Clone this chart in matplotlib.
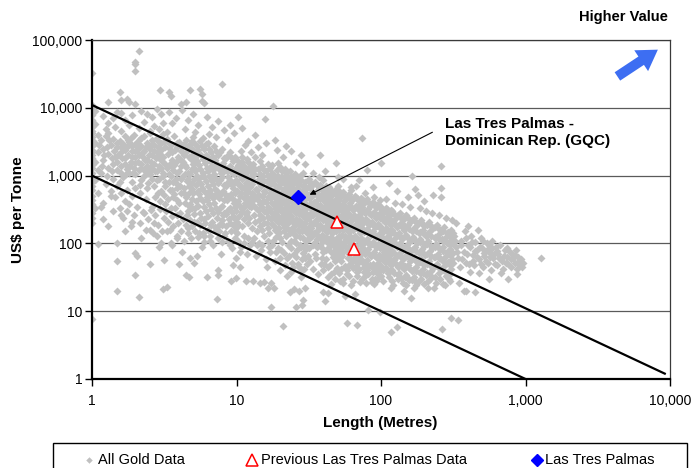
import matplotlib
matplotlib.use('Agg')
import matplotlib.pyplot as plt
from matplotlib.lines import Line2D
from matplotlib.patches import Rectangle

plt.rcParams['font.family'] = ['Liberation Sans', 'DejaVu Sans']

# ---- data: (length in metres, US$ per tonne) ----
# All Gold Data, split by length range
gold_1m = [(1, 33000), (1, 11000), (1, 10500), (1.05, 9000), (1, 7800), (1, 6500), (1.05, 5800),
           (1, 5200), (1, 4600), (1.1, 4000), (1, 3700), (1, 3300), (1.05, 3000), (1, 2700),
           (1, 2400), (1.1, 2200), (1, 2000), (1, 1800), (1.05, 1600), (1, 1450), (1, 1300),
           (1.1, 1200), (1, 1100), (1, 950), (1.05, 870), (1, 800), (1, 700), (1, 620),
           (1.1, 560), (1, 500), (1, 440), (1, 380), (1.05, 330), (1, 280), (1, 240), (1, 200),
           (1.1, 97), (1, 7.7), (1, 9500), (1, 6000), (1, 4200), (1, 3000), (1, 2200), (1, 1600)]

gold_1to3 = [(2.1, 70000), (2.0, 48000), (2.0, 45000), (2.0, 35000), (1.55, 17000), (1.3, 12000),
             (1.6, 13000), (1.75, 13500), (1.8, 12000), (2.0, 11500), (2.95, 18000), (1.5, 8800),
             (1.2, 7500), (1.3, 6000), (1.4, 7000), (1.6, 8500), (1.7, 6500), (1.9, 7800), (2.2, 9000),
             (2.4, 8000), (2.6, 7200), (2.8, 9500), (3.0, 8200), (1.25, 4800), (1.45, 5200), (1.6, 4500),
             (1.8, 5600), (2.1, 5000), (2.3, 6200), (2.5, 4600), (2.7, 5400), (2.9, 4900), (3.1, 6000),
             (1.15, 3300), (1.2, 2500), (1.2, 1700), (1.25, 3900), (1.3, 2100), (1.3, 1300), (1.35, 2800),
             (1.4, 3500), (1.4, 900), (1.45, 1900), (1.5, 2600), (1.5, 1200), (1.15, 1100), (1.25, 750),
             (1.35, 600), (1.45, 480), (1.2, 400), (1.5, 700), (1.3, 4200), (1.4, 1500),
             (1.55, 3200), (1.6, 2200), (1.6, 1400), (1.65, 950), (1.7, 3800), (1.7, 1800), (1.75, 2600),
             (1.8, 1100), (1.8, 3100), (1.85, 1600), (1.9, 2300), (1.9, 800), (1.95, 1300), (2.0, 2900),
             (2.0, 1900), (2.0, 650), (1.6, 550), (1.7, 420), (1.85, 3600), (1.95, 4000), (1.65, 2900),
             (1.75, 1250), (1.9, 500), (2.0, 1050),
             (2.1, 3400), (2.1, 2000), (2.1, 1200), (2.2, 2700), (2.2, 1500), (2.2, 850), (2.3, 3900),
             (2.3, 2300), (2.3, 1000), (2.4, 3000), (2.4, 1700), (2.4, 650), (2.5, 2500), (2.5, 1300),
             (2.5, 4200), (2.6, 2000), (2.6, 900), (2.6, 3300), (2.15, 550), (2.35, 450), (2.45, 1100),
             (2.55, 1600), (2.25, 1900), (2.05, 2400),
             (2.7, 2800), (2.7, 1500), (2.7, 700), (2.8, 3600), (2.8, 2200), (2.8, 1150), (2.9, 1800),
             (2.9, 900), (3.0, 3000), (3.0, 2400), (3.0, 1300), (3.0, 600), (3.1, 1900), (3.1, 1000),
             (3.1, 4100), (3.2, 2600), (3.2, 1500), (3.2, 800), (2.75, 480), (2.95, 420), (3.15, 520),
             (2.85, 3200),
             (1.12, 2800), (1.18, 1400), (1.22, 2000), (1.28, 2600), (1.28, 1000), (1.32, 3300),
             (1.38, 1800), (1.38, 1150), (1.42, 2300), (1.48, 3000), (1.48, 1600), (1.52, 2000),
             (1.58, 2600), (1.58, 1100), (1.62, 1800), (1.68, 2400), (1.68, 1500), (1.72, 1050),
             (1.78, 2000), (1.78, 3400), (1.82, 1400), (1.88, 1900), (1.88, 2700), (1.92, 1100),
             (1.98, 1550), (1.98, 2300), (2.05, 3000), (2.08, 1600), (2.12, 2600), (2.18, 1300),
             (2.18, 3600), (2.25, 2200), (2.28, 1200), (2.32, 1700), (2.38, 2600), (2.42, 1400),
             (2.48, 2000), (2.52, 1050), (2.58, 2800), (2.62, 1250), (2.68, 2300), (2.72, 1150),
             (2.78, 1800), (2.82, 850), (2.88, 2600), (2.92, 1400), (2.98, 2000), (3.05, 1650),
             (3.08, 1100), (3.15, 3100), (3.18, 700), (1.35, 500), (1.55, 800), (1.75, 620),
             (2.15, 720), (2.45, 780), (2.85, 560),
             (1.55, 330), (1.65, 240), (1.75, 300), (1.85, 180), (1.95, 260), (2.05, 340), (2.15, 200),
             (2.25, 290), (2.35, 160), (2.45, 230), (2.55, 310), (2.65, 140), (2.75, 260), (2.85, 190),
             (2.95, 320), (3.05, 150), (3.15, 240),
             (1.15, 350), (1.2, 230), (1.3, 180), (1.4, 300), (1.5, 100), (1.5, 55), (1.5, 20), (1.6, 260),
             (1.7, 150), (1.8, 380), (1.9, 210), (2.0, 72), (2.0, 34), (2.05, 65), (2.1, 16), (2.2, 120),
             (2.3, 280), (2.5, 50), (2.5, 160), (2.6, 340), (2.7, 200), (2.8, 130), (2.9, 88), (3.0, 100),
             (3.15, 57), (3.1, 21), (3.3, 23), (3.2, 380)]

gold_3to10 = [(3.4, 17000), (3.5, 15000), (4.1, 11500), (4.5, 12000), (4.8, 18000), (5.6, 19000),
              (5.8, 16000), (5.8, 12500), (6.0, 11800), (7.9, 22500), (3.4, 8700), (3.8, 7000),
              (4.2, 9300), (4.6, 6500), (5.0, 8000), (5.4, 5600), (6.2, 7400), (6.8, 5200), (7.5, 6300),
              (8.2, 4700), (9.0, 5500), (3.6, 5900), (4.4, 4900), (5.2, 4400), (6.5, 4100), (3.3, 4400),
              (7.2, 3700), (8.8, 3400), (9.6, 4200), (5.9, 3600),
              (3.3, 3500), (3.35, 2100), (3.3, 1300), (3.4, 800), (3.35, 450),
              (3.5, 2800), (3.55, 1700), (3.5, 1000), (3.6, 620), (3.5, 330),
              (3.7, 3900), (3.75, 2400), (3.7, 1450), (3.8, 900), (3.7, 540),
              (4.0, 3100), (3.95, 1900), (4.0, 1150), (4.05, 700), (4.0, 400), (3.9, 260),
              (4.2, 2600), (4.25, 1600), (4.2, 950), (4.3, 560),
              (4.5, 3400), (4.45, 2200), (4.5, 1350), (4.55, 820), (4.5, 480), (4.6, 300),
              (4.8, 2900), (4.85, 1750), (4.8, 1050), (4.9, 640), (4.75, 380),
              (5.0, 3700), (5.05, 2300), (5.0, 1500), (5.1, 900), (5.0, 550), (4.95, 330), (5.1, 210),
              (5.3, 2700), (5.35, 1650), (5.3, 1000), (5.4, 600), (5.25, 420),
              (5.6, 3200), (5.65, 2000), (5.6, 1250), (5.7, 760), (5.55, 460), (5.6, 280),
              (6.0, 2500), (6.05, 1550), (6.0, 950), (6.1, 580), (5.95, 350), (6.0, 230),
              (6.3, 3000), (6.35, 1850), (6.3, 1150), (6.4, 700), (6.25, 430),
              (6.7, 2200), (6.75, 1400), (6.7, 850), (6.8, 520), (6.65, 320), (6.7, 190),
              (7.0, 2700), (7.05, 1700), (7.0, 1050), (7.1, 640), (6.95, 390),
              (7.5, 2000), (7.55, 1250), (7.5, 780), (7.6, 470), (7.45, 290), (7.5, 180),
              (8.0, 2500), (8.05, 1550), (8.0, 950), (8.1, 590), (7.95, 360), (8.0, 220),
              (8.5, 1800), (8.55, 1150), (8.5, 700), (8.6, 430), (8.45, 270),
              (9.0, 2200), (9.05, 1400), (9.0, 860), (9.1, 530), (8.95, 330), (9.0, 200),
              (9.5, 1650), (9.55, 1050), (9.5, 650), (9.6, 400), (9.45, 250),
              (3.45, 2500), (3.65, 1200), (3.85, 3000), (4.1, 1400), (4.35, 2000), (4.65, 1100),
              (4.9, 2500), (5.15, 1250), (5.45, 2100), (5.75, 1000), (6.15, 2000), (6.5, 1300),
              (6.9, 900), (7.3, 1500), (7.8, 1100), (8.3, 1300), (8.8, 950), (9.3, 1150), (9.8, 800),
              (3.9, 650), (4.7, 700), (5.5, 800), (6.4, 550), (7.3, 600), (8.4, 520), (9.8, 420),
              (3.4, 3000), (3.45, 1500), (3.4, 1050), (3.45, 620), (3.6, 2200), (3.6, 1400), (3.65, 800),
              (3.62, 480), (3.85, 2600), (3.9, 1650), (3.85, 1100), (3.88, 760), (3.85, 430), (4.1, 2300),
              (4.12, 1700), (4.1, 880), (4.15, 560), (4.35, 2900), (4.4, 1450), (4.38, 1050), (4.35, 650),
              (4.38, 400), (4.65, 2600), (4.7, 1900), (4.62, 900), (4.68, 560), (4.66, 360), (4.92, 3200),
              (4.95, 2000), (4.9, 1250), (4.93, 780), (4.95, 450), (5.2, 2900), (5.2, 1800), (5.15, 1150),
              (5.22, 720), (5.18, 330), (5.45, 2400), (5.5, 1450), (5.45, 900), (5.5, 540), (5.45, 360),
              (5.8, 2700), (5.82, 1750), (5.85, 1100), (5.8, 650), (5.85, 420), (6.15, 2900), (6.2, 1300),
              (6.15, 820), (6.2, 480), (6.18, 300), (6.5, 2500), (6.55, 1650), (6.5, 1000), (6.55, 620),
              (6.5, 380), (6.85, 1900), (6.9, 1200), (6.88, 740), (6.85, 460), (6.9, 280), (7.2, 2300),
              (7.25, 1400), (7.2, 880), (7.25, 540), (7.2, 330), (7.7, 2200), (7.75, 1400), (7.7, 860),
              (7.75, 540), (7.7, 330), (8.2, 1800), (8.25, 1150), (8.2, 720), (8.25, 440), (8.2, 280),
              (8.7, 2000), (8.75, 1300), (8.7, 800), (8.75, 500), (8.7, 310), (9.25, 1800), (9.3, 1100),
              (9.25, 720), (9.3, 460), (9.25, 290), (9.75, 1900), (9.8, 1250), (9.75, 560), (9.8, 350),
              (9.75, 230),
              (3.25, 300), (3.35, 210), (3.45, 160), (3.55, 250), (3.65, 180), (3.75, 330), (3.85, 130),
              (3.95, 200), (4.05, 280), (4.15, 150), (4.25, 230), (4.35, 110), (4.45, 190), (4.55, 260),
              (4.65, 140), (4.75, 220), (4.85, 120), (4.95, 180), (5.1, 270), (5.2, 150), (5.3, 210),
              (5.45, 125), (5.6, 190), (5.7, 240), (5.85, 140), (5.95, 105), (6.1, 200), (6.3, 160),
              (6.4, 250), (6.6, 130), (6.8, 210), (6.9, 95), (7.1, 175), (7.3, 240), (7.4, 120),
              (7.6, 150), (7.8, 200), (7.9, 105), (8.1, 260), (8.3, 140), (8.5, 180), (8.7, 110),
              (8.9, 230), (9.1, 150), (9.3, 85), (9.5, 190), (9.7, 120), (9.9, 170),
              (3.3, 150), (3.6, 95), (3.9, 120), (4.2, 75), (4.5, 34), (4.7, 32), (4.6, 170), (4.8, 60),
              (5.1, 51), (5.5, 140), (5.8, 88), (6.25, 32), (6.6, 110), (7.3, 15), (7.2, 160), (7.4, 34),
              (7.5, 40), (7.8, 70), (8.2, 130), (9.1, 28), (9.0, 95), (9.9, 31), (9.8, 150), (9.9, 60),
              (4.0, 50), (5.3, 65), (3.5, 100), (8.0, 185), (9.5, 48), (6.0, 130)]

gold_10to30 = [(10.2, 7400), (13.4, 4000), (15.8, 6800), (17.8, 10500), (18.5, 3400), (21, 1900),
               (24, 2300), (26, 1600), (11, 5000), (12, 3200), (14, 2600), (16, 3000), (19, 2400),
               (22, 2700), (28, 2000), (30, 1500), (12.5, 2200), (15, 2000), (11.5, 2800),
               (10, 1700), (10.1, 1200), (9.9, 850), (10, 600), (10.2, 420), (9.9, 300), (10, 210), (10.1, 140),
               (10.5, 1400), (10.6, 1000), (10.4, 720), (10.5, 500), (10.7, 350), (10.4, 250),
               (11, 1900), (11.1, 1300), (10.9, 900), (11, 650), (11.2, 460), (10.9, 320), (11, 180),
               (11.5, 1100), (11.6, 780), (11.4, 560), (11.5, 390), (11.7, 270),
               (12, 1600), (12.1, 1150), (11.9, 800), (12, 580), (12.2, 410), (11.9, 290), (12, 200), (12.1, 120),
               (12.5, 1350), (12.7, 950), (12.4, 680), (12.6, 480), (12.5, 340),
               (13, 1500), (13.2, 1050), (12.9, 750), (13.1, 530), (13, 370), (13.3, 260), (12.9, 170),
               (14, 1250), (14.2, 880), (13.8, 620), (14.1, 440), (14, 310), (14.3, 220), (13.9, 150),
               (15, 1400), (15.2, 980), (14.8, 700), (15.1, 500), (15, 350), (15.3, 240), (14.9, 160), (15, 95),
               (16, 1150), (16.2, 820), (15.8, 580), (16.1, 410), (16, 290), (16.3, 200),
               (17, 1300), (17.2, 920), (16.8, 650), (17.1, 460), (17, 320), (17.3, 230), (16.9, 140),
               (18, 1050), (18.2, 760), (17.8, 540), (18.1, 380), (18, 270), (18.3, 180), (17.9, 110),
               (19, 1200), (19.3, 850), (18.8, 600), (19.1, 420), (19, 300), (19.4, 210),
               (20, 1350), (20.3, 950), (19.8, 680), (20.1, 480), (20, 340), (20.4, 240), (19.7, 170),
               (20, 120), (20.2, 80),
               (21, 900), (21.3, 640), (20.8, 450), (21.2, 320), (21, 220), (21.4, 150),
               (22, 1100), (22.3, 780), (21.8, 560), (22.2, 400), (22, 280), (22.4, 200), (21.9, 130),
               (23, 850), (23.3, 600), (22.8, 430), (23.2, 300), (23, 210), (23.4, 140),
               (24, 1000), (24.4, 720), (23.8, 510), (24.2, 360), (24, 250), (24.5, 175), (23.9, 110),
               (25, 800), (25.4, 570), (24.8, 400), (25.2, 290), (25, 200), (25.5, 135), (25, 70),
               (26, 920), (26.4, 650), (25.8, 460), (26.2, 330), (26, 230), (26.5, 160), (26, 100),
               (27, 750), (27.4, 530), (26.8, 380), (27.2, 270), (27, 190), (27.5, 125),
               (28, 850), (28.5, 600), (27.8, 430), (28.3, 300), (28, 210), (28.6, 150), (28, 90),
               (30, 800), (30.5, 560), (29.6, 400), (30.2, 285), (30, 200), (30.7, 140), (29.8, 95), (30, 60),
               (31, 680), (31.4, 480), (30.8, 340), (31.2, 240), (31, 170), (31.5, 115),
               (10.8, 2300), (11.8, 1750), (13.5, 1900), (14.5, 1650), (16.5, 1500), (17.5, 1450),
               (19.5, 1550), (21.5, 1250), (23.5, 1150), (25.5, 1050), (27.5, 1000), (29, 1100),
               (13.8, 95), (16.8, 90), (18.8, 75), (22.5, 60), (24.5, 45), (26.5, 50), (28.5, 40),
               (12.8, 105), (10.6, 75), (11.2, 100),
               (10.3, 1450), (10.35, 760), (10.25, 380), (10.3, 190), (10.8, 1150), (10.75, 560),
               (10.85, 290), (10.9, 1600), (11.3, 1400), (11.35, 680), (11.25, 340), (11.3, 230),
               (11.8, 950), (11.75, 470), (11.85, 650), (11.9, 1250), (12.3, 1300), (12.35, 700),
               (12.25, 360), (12.3, 240), (12.8, 1100), (12.9, 560), (12.75, 420), (12.85, 880),
               (13.5, 1250), (13.6, 640), (13.4, 460), (13.55, 330), (13.5, 210), (14.5, 1050),
               (14.6, 760), (14.4, 520), (14.55, 380), (14.5, 265), (14.6, 180), (15.5, 1200),
               (15.6, 830), (15.4, 600), (15.55, 420), (15.5, 300), (15.6, 200), (16.5, 990),
               (16.6, 700), (16.4, 490), (16.55, 350), (16.5, 245), (16.6, 170), (17.5, 1100),
               (17.6, 780), (17.4, 560), (17.55, 400), (17.5, 280), (17.6, 195), (18.5, 900),
               (18.6, 640), (18.4, 460), (18.55, 330), (18.5, 230), (18.6, 155), (19.5, 1000),
               (19.6, 720), (19.4, 510), (19.55, 360), (19.5, 250), (19.6, 140), (20.6, 1150),
               (20.7, 820), (20.5, 580), (20.7, 410), (20.6, 290), (20.7, 200), (21.6, 1000),
               (21.7, 760), (21.5, 530), (21.7, 380), (21.6, 265), (21.7, 175), (22.7, 950),
               (22.8, 660), (22.6, 480), (22.8, 340), (22.7, 240), (22.8, 165), (23.7, 880),
               (23.8, 620), (23.6, 440), (23.8, 310), (23.7, 220), (23.8, 150), (24.8, 860),
               (24.9, 610), (24.6, 450), (24.9, 320), (24.8, 225), (24.9, 155), (25.9, 780),
               (26, 550), (25.7, 390), (26, 280), (25.9, 195), (26, 130), (27, 880), (27.2, 620),
               (26.9, 440), (27.1, 310), (27, 220), (27.2, 150), (28.9, 700), (29, 500), (28.8, 360),
               (29, 250), (28.9, 175), (29, 120), (30.3, 650), (30.4, 460), (30.1, 330), (30.4, 230),
               (30.3, 165), (30.4, 110),
               (10.2, 110), (10.8, 90), (11.3, 130), (11.8, 70), (12.4, 95), (13.2, 120), (13.6, 65),
               (14.2, 100), (14.8, 80), (15.4, 130), (15.9, 58), (16.4, 110), (17, 75), (17.7, 95),
               (18.4, 55), (18.9, 125), (19.4, 85), (20, 60), (20.6, 105), (21.3, 72), (21.8, 48),
               (22.6, 95), (23.2, 65), (23.8, 85), (24.3, 52), (24.9, 110), (25.7, 62), (26.3, 80),
               (26.9, 45), (27.6, 95), (28.2, 58), (28.8, 72), (29.4, 42), (30.1, 82), (30.8, 50),
               (31.4, 65), (16.2, 45), (19.9, 40), (23.7, 38), (27.8, 32),
               (10.5, 45), (11.6, 28), (13, 28), (14.5, 26), (15.5, 27), (16.5, 22), (17.4, 26),
               (17.4, 11.5), (18.2, 22), (21, 6), (22.4, 33), (23.4, 19), (25, 21), (27, 20), (30, 22),
               (25.8, 11.5), (28.3, 12.3), (28.8, 14.6)]

gold_30to100 = [(32, 900), (32.5, 650), (31.8, 460), (32.2, 330), (32, 240), (32.6, 170), (31.9, 120), (32, 85),
                (33, 700), (33.5, 500), (33.2, 360), (33.8, 260), (33, 185), (33.4, 130),
                (35, 800), (35.5, 580), (34.6, 410), (35.2, 300), (35, 215), (35.8, 150), (34.8, 105), (35, 70),
                (36.5, 620), (36, 440), (37, 320), (36.4, 230), (36.8, 160), (36.2, 115),
                (38, 720), (38.6, 520), (37.8, 370), (38.4, 270), (38, 190), (38.8, 135), (37.9, 95),
                (40, 850), (40.6, 600), (39.5, 430), (40.3, 310), (40, 220), (40.8, 160), (39.6, 110),
                (40, 75), (40.4, 50),
                (42, 560), (42.6, 400), (41.6, 290), (42.3, 205), (42, 145), (42.8, 100),
                (44, 680), (44.7, 480), (43.6, 350), (44.3, 250), (44, 180), (44.9, 125), (43.8, 88),
                (46, 530), (46.6, 380), (45.6, 270), (46.4, 195), (46, 140), (46.9, 95),
                (48, 620), (48.7, 450), (47.5, 320), (48.3, 230), (48, 165), (48.9, 115), (47.7, 80), (48, 55),
                (50, 700), (50.8, 500), (49.5, 360), (50.4, 260), (50, 185), (51, 130), (49.7, 90), (50, 62),
                (52, 480), (52.8, 340), (51.6, 245), (52.4, 175), (52, 125), (53, 85),
                (55, 580), (55.8, 420), (54.4, 300), (55.4, 215), (55, 155), (56, 110), (54.7, 75),
                (57, 450), (57.8, 320), (56.6, 230), (57.5, 165), (57, 118), (58, 80),
                (60, 540), (61, 390), (59.4, 280), (60.5, 200), (60, 145), (61.2, 100), (59.6, 70), (60, 48),
                (63, 430), (64, 310), (62.5, 220), (63.5, 160), (63, 112), (64.3, 78),
                (66, 500), (67, 360), (65.4, 260), (66.5, 185), (66, 130), (67.3, 92), (65.7, 64),
                (70, 420), (71, 300), (69.3, 215), (70.6, 155), (70, 110), (71.5, 76), (69.6, 52),
                (73, 470), (74, 340), (72.3, 240), (73.6, 170), (73, 122), (74.5, 85), (72.6, 58),
                (76, 390), (77, 280), (75.3, 200), (76.6, 145), (76, 102), (77.5, 70),
                (80, 450), (81, 320), (79.2, 230), (80.6, 165), (80, 118), (81.6, 82), (79.5, 56), (80, 40),
                (84, 360), (85, 260), (83.2, 185), (84.6, 132), (84, 94), (85.6, 66),
                (88, 410), (89, 290), (87.2, 210), (88.6, 150), (88, 106), (89.6, 74), (87.5, 50),
                (92, 340), (93, 240), (91.2, 172), (92.6, 123), (92, 88), (93.6, 61),
                (96, 380), (97, 270), (95.2, 195), (96.6, 138), (96, 98), (97.6, 68), (95.5, 46),
                (32.8, 780), (32.9, 560), (32.7, 400), (32.9, 280), (32.8, 200), (32.9, 145), (34, 740),
                (34.2, 530), (33.9, 380), (34.1, 270), (34, 195), (34.2, 140), (34, 95), (36, 720),
                (36.2, 520), (35.9, 370), (36.1, 265), (36, 190), (36.2, 135), (36, 90), (37.4, 680),
                (37.6, 470), (37.3, 340), (37.5, 240), (37.4, 170), (37.6, 120), (39.2, 640), (39.4, 460),
                (39.1, 330), (39.3, 240), (39.2, 170), (39.4, 125), (39.2, 85), (41.3, 700), (41.5, 500),
                (41.2, 360), (41.4, 255), (41.3, 180), (41.5, 125), (41.3, 80), (43.2, 600), (43.4, 440),
                (43.1, 310), (43.3, 220), (43.2, 160), (43.4, 110), (45.2, 620), (45.4, 430), (45.1, 310),
                (45.3, 225), (45.2, 160), (45.4, 110), (45.2, 75), (47.2, 560), (47.4, 400), (47.1, 285),
                (47.3, 205), (47.2, 150), (47.4, 100), (49.2, 550), (49.4, 400), (49.1, 290), (49.3, 210),
                (49.2, 150), (49.4, 105), (49.2, 72), (51.3, 600), (51.5, 430), (51.2, 310), (51.4, 220),
                (51.3, 155), (51.5, 110), (51.3, 75), (53.8, 520), (54, 370), (53.7, 265), (53.9, 190),
                (53.8, 135), (54, 95), (53.8, 65), (56.2, 500), (56.4, 360), (56.1, 260), (56.3, 185),
                (56.2, 130), (56.4, 92), (58.7, 480), (58.9, 340), (58.6, 245), (58.8, 175), (58.7, 125),
                (58.9, 88), (58.7, 60), (61.7, 470), (61.9, 340), (61.6, 245), (61.8, 175), (61.7, 125),
                (61.9, 86), (61.7, 58), (64.6, 460), (64.8, 330), (64.5, 235), (64.7, 170), (64.6, 120),
                (64.8, 84), (64.6, 56), (68, 460), (68.2, 330), (67.9, 235), (68.1, 168), (68, 118),
                (68.2, 82), (68, 56), (71.6, 380), (71.8, 270), (71.5, 195), (71.7, 140), (71.6, 98),
                (71.8, 68), (75, 430), (75.2, 310), (74.9, 220), (75.1, 158), (75, 112), (75.2, 78),
                (75, 52), (78.4, 420), (78.6, 300), (78.3, 215), (78.5, 152), (78.4, 108), (78.6, 75),
                (78.4, 50), (82.3, 400), (82.5, 285), (82.2, 205), (82.4, 145), (82.3, 102), (82.5, 70),
                (82.3, 47), (86.2, 380), (86.4, 275), (86.1, 195), (86.3, 138), (86.2, 98), (86.4, 68),
                (86.2, 45), (90.2, 360), (90.4, 260), (90.1, 185), (90.3, 132), (90.2, 94), (90.4, 65),
                (90.2, 44), (94.2, 350), (94.4, 250), (94.1, 180), (94.3, 128), (94.2, 90), (94.4, 62),
                (94.2, 42), (98.3, 330), (98.5, 240), (98.2, 170), (98.4, 122), (98.3, 86), (98.5, 58),
                (98.3, 40),
                (32.5, 55), (33.8, 42), (35.5, 60), (36.8, 35), (38.2, 50), (39.8, 40), (41.5, 58),
                (42.8, 32), (44.4, 48), (46.2, 62), (47.8, 30), (49.5, 44), (51.2, 36), (52.9, 55),
                (54.7, 30), (56.6, 46), (58.4, 40), (60.5, 33), (62.3, 52), (64, 28), (66.4, 45),
                (68.5, 33), (70.8, 42), (73.4, 30), (75.8, 45), (78.2, 26), (80.7, 35), (83.3, 48),
                (86, 27), (88.7, 38), (91.5, 30), (94.6, 52), (97.4, 32), (45, 35), (55, 26), (76, 38),
                (92, 28),
                (39, 60), (43, 45), (47, 38), (53, 42), (58, 35), (64, 44), (68, 38), (78, 33), (86, 30),
                (94, 36), (45, 560), (62, 620), (78, 560), (90, 480), (99, 430), (34, 1100), (37, 950),
                (41, 1150),
                (38, 2000), (49, 1550), (74, 3600), (80, 1200), (50, 950), (62, 680), (67, 700), (88, 680),
                (55, 900), (70, 850),
                (40, 19), (41, 14), (43, 18.5), (56, 17), (66, 18), (58, 6.7), (68, 6.3), (81, 10.4),
                (98, 9.8), (45, 25), (52, 28), (62, 24), (72, 27), (90, 25)]

gold_100to300 = [(100, 350), (101, 250), (99, 180), (100.5, 130), (100, 92), (102, 65), (99.5, 46), (100, 33),
                 (105, 290), (106, 205), (104, 148), (105.5, 105), (105, 75), (107, 53),
                 (110, 320), (111.5, 230), (109, 165), (110.5, 118), (110, 84), (112, 60), (109, 42),
                 (115, 260), (116.5, 188), (114, 135), (115.5, 96), (115, 68), (117, 48),
                 (120, 300), (122, 215), (119, 155), (121, 110), (120, 78), (123, 56), (119, 40), (120, 28),
                 (128, 240), (130, 172), (126, 123), (129, 88), (128, 63), (131, 45),
                 (135, 280), (137, 200), (133, 142), (136, 102), (135, 73), (138, 52), (134, 37),
                 (142, 225), (144, 160), (140, 115), (143, 82), (142, 59), (145, 42),
                 (150, 260), (153, 185), (148, 132), (151, 95), (150, 68), (154, 48), (149, 34), (150, 24),
                 (160, 210), (163, 150), (158, 107), (161, 77), (160, 55), (164, 39),
                 (170, 240), (173, 172), (167, 123), (171, 88), (170, 63), (174, 45), (168, 32),
                 (180, 195), (184, 140), (177, 100), (182, 72), (180, 51), (185, 36),
                 (190, 225), (194, 160), (187, 115), (192, 82), (190, 59), (195, 42), (188, 30),
                 (200, 180), (205, 130), (197, 93), (202, 67), (200, 48), (206, 34),
                 (215, 210), (220, 150), (211, 107), (217, 77), (215, 55), (221, 39), (212, 28),
                 (230, 170), (235, 122), (226, 87), (232, 62), (230, 44),
                 (245, 190), (250, 136), (241, 97), (247, 70), (245, 50), (252, 36),
                 (260, 160), (266, 115), (256, 82), (262, 59), (260, 42),
                 (275, 175), (281, 125), (270, 90), (278, 64), (275, 46), (283, 33),
                 (290, 145), (296, 104), (285, 74), (293, 53), (290, 38),
                 (305, 160), (312, 115), (300, 82), (308, 59), (305, 42),
                 (102.5, 310), (103, 220), (102.5, 160), (103, 115), (102.5, 82), (103, 58), (102.5, 40),
                 (107.5, 330), (108, 240), (107.5, 170), (108, 122), (107.5, 88), (108, 62), (107.5, 44),
                 (112.5, 280), (113, 200), (112.5, 145), (113, 104), (112.5, 74), (113, 52), (112.5, 36),
                 (117.5, 310), (118, 220), (117.5, 158), (118, 112), (117.5, 80), (118, 57), (117.5, 40),
                 (124, 270), (125, 195), (124, 140), (125, 100), (124, 72), (125, 51), (124, 36),
                 (131.5, 260), (132.5, 186), (131.5, 133), (132.5, 95), (131.5, 68), (132.5, 48),
                 (131.5, 34), (138.5, 240), (139.5, 172), (138.5, 123), (139.5, 88), (138.5, 63),
                 (139.5, 45), (138.5, 31), (146, 250), (147, 178), (146, 127), (147, 90), (146, 64),
                 (147, 46), (146, 32), (155, 230), (156, 165), (155, 118), (156, 84), (155, 60), (156, 43),
                 (155, 30), (165, 225), (166, 160), (165, 114), (166, 82), (165, 58), (166, 41), (165, 29),
                 (175, 210), (176, 150), (175, 107), (176, 77), (175, 55), (176, 39), (175, 27),
                 (185, 205), (186, 146), (185, 104), (186, 75), (185, 53), (186, 38), (195, 195),
                 (196, 140), (195, 100), (196, 72), (195, 51), (196, 36), (207, 190), (208, 136),
                 (207, 97), (208, 70), (207, 50), (208, 36), (222, 180), (223, 128), (222, 92), (223, 66),
                 (222, 47), (223, 33), (237, 175), (238, 125), (237, 90), (238, 64), (237, 46), (237, 32),
                 (252, 165), (253, 118), (252, 85), (253, 61), (252, 44), (268, 150), (269, 108),
                 (268, 77), (269, 55), (268, 40), (284, 140), (285, 100), (284, 72), (285, 51), (284, 37),
                 (300, 130), (301, 94), (300, 67), (301, 48), (300, 35), (315, 140), (316, 100),
                 (315, 72), (316, 52),
                 (104, 28), (113, 32), (122, 24), (132, 30), (143, 26), (157, 29), (168, 22), (182, 28),
                 (198, 25), (218, 30), (234, 22), (256, 30), (278, 24), (295, 30),
                 (108, 450), (125, 400), (140, 380), (158, 350), (185, 330), (205, 300), (225, 280),
                 (250, 260), (280, 240), (310, 220), (118, 22), (145, 20), (175, 24), (210, 22),
                 (240, 26), (270, 25), (300, 28),
                 (100, 1550), (113, 780), (165, 1000), (260, 1400), (172, 630), (260, 650), (260, 480),
                 (230, 520), (153, 480), (180, 520), (130, 600), (200, 420),
                 (117, 5), (129, 5.8), (162, 15.6), (265, 5.5), (305, 8)]

gold_300up = [(320, 130), (330, 90), (340, 60), (350, 45), (360, 110), (375, 75), (380, 150), (390, 52),
              (400, 95), (410, 38), (420, 130), (430, 68), (440, 48), (450, 105), (460, 80), (475, 36),
              (480, 58), (490, 120), (500, 85), (510, 45), (520, 65), (540, 100), (550, 52), (560, 75),
              (580, 40), (590, 110), (600, 60), (620, 88), (640, 48), (650, 70), (670, 95), (690, 55),
              (700, 42), (720, 80), (740, 62), (760, 50), (780, 75), (800, 45), (820, 60), (850, 68),
              (870, 42), (900, 55), (920, 48), (950, 45), (760, 30), (880, 35), (1280, 60), (330, 200),
              (400, 180), (470, 160), (345, 26), (390, 20), (450, 19), (375, 20), (560, 30), (680, 36),
              (325, 110), (335, 75), (355, 95), (365, 58), (385, 120), (395, 70), (405, 50), (415, 88),
              (425, 105), (435, 55), (445, 78), (465, 62), (485, 90), (495, 50), (505, 110), (515, 72),
              (530, 55), (545, 80), (555, 95), (570, 62), (585, 85), (605, 70), (615, 50), (630, 78),
              (660, 60), (710, 65), (730, 52), (750, 85), (790, 58), (810, 70), (840, 52), (860, 80),
              (890, 62), (930, 58), (960, 52),
              (340, 7.4)]

prev_len = [49.6, 65]
prev_usd = [204, 84]
ltp_len = [26.7]
ltp_usd = [490]

# the two diagonal guide lines
upper_len = [1, 9200]
upper_usd = [11000, 1.2]
lower_len = [1, 1000]
lower_usd = [1000, 1]

x_ticks = [1, 10, 100, 1000, 10000]
x_labels = ['1', '10', '100', '1,000', '10,000']
y_ticks = [1, 10, 100, 1000, 10000, 100000]
y_labels = ['1', '10', '100', '1,000', '10,000', '100,000']

gold = gold_1m + gold_1to3 + gold_3to10 + gold_10to30 + gold_30to100 + gold_100to300 + gold_300up
gold_len = [p[0] for p in gold]
gold_usd = [p[1] for p in gold]

W, H = 691, 468
fig = plt.figure(figsize=(W / 100, H / 100), dpi=100)
ax = fig.add_axes([92 / W, 1 - 379 / H, 578 / W, 339 / H])
ax.set_xscale('log')
ax.set_yscale('log')
ax.set_xlim(1, 10000)
ax.set_ylim(1, 100000)

for yv in y_ticks[1:]:
    ax.axhline(yv, color='#5a5a5a', lw=0.9, zorder=0)

ax.plot(gold_len, gold_usd, ls='none', marker='D', ms=3.7, mfc='#c0c0c0', mec='none', zorder=2)
ax.plot(upper_len, upper_usd, color='black', lw=1.6, zorder=3)
ax.plot(lower_len, lower_usd, color='black', lw=1.6, zorder=3)
ax.plot(prev_len, prev_usd, ls='none', marker='^', ms=9, mfc='white', mec='red', mew=1.1, zorder=4)
ax.plot(ltp_len, ltp_usd, ls='none', marker='D', ms=7, mfc='#0000ff', mec='#0000ff', zorder=4)

ax.set_xticks(x_ticks)
ax.set_xticklabels(x_labels)
ax.set_yticks(y_ticks)
ax.set_yticklabels(y_labels)
ax.minorticks_off()
ax.tick_params(axis='x', length=5, width=1, pad=6, labelsize=10)
ax.tick_params(axis='y', length=5, width=1, pad=2, labelsize=10)

ax.spines['left'].set_linewidth(1.6)
ax.spines['bottom'].set_linewidth(1.6)
ax.spines['top'].set_linewidth(0.9)
ax.spines['right'].set_linewidth(0.9)
ax.spines['top'].set_color('#3a3a3a')
ax.spines['right'].set_color('#3a3a3a')

# callout for the Las Tres Palmas point
ax.annotate('', xy=(30.8, 500), xytext=(236, 4550),
            arrowprops=dict(arrowstyle='-|>', color='black', lw=0.8, mutation_scale=8))
ax.text(277, 4300, 'Las Tres Palmas -\nDominican Rep. (GQC)', ha='left', va='center',
        fontsize=11, fontweight='bold', linespacing=1.3)

# "higher value" arrow
ax.annotate('', xy=(0.983, 0.976), xytext=(0.905, 0.888), xycoords='axes fraction',
            arrowprops=dict(arrowstyle='simple,head_length=0.8,head_width=1.0,tail_width=0.4',
                            fc='#3d6ef2', ec='none', mutation_scale=18))
fig.text(668 / W, 1 - 17 / H, 'Higher Value', ha='right', va='center', fontsize=10.5, fontweight='bold')

fig.text(380 / W, 1 - 423 / H, 'Length (Metres)', ha='center', va='center', fontsize=11, fontweight='bold')
fig.text(18 / W, 1 - 210 / H, 'US$ per Tonne', ha='center', va='center', rotation=90,
         fontsize=11, fontweight='bold')

# legend box, cut off by the bottom edge like the original
fig.add_artist(Rectangle((53 / W, -0.05), (687 - 53) / W, 0.05 + 1 - 443 / H, transform=fig.transFigure,
                         fill=False, edgecolor='black', lw=1))
ly = 1 - 460 / H
fig.add_artist(Line2D([89 / W], [ly], transform=fig.transFigure, marker='D', ms=3.3,
                      mfc='#c0c0c0', mec='none', ls='none'))
fig.text(98 / W, ly, 'All Gold Data', ha='left', va='center', fontsize=10.5)
fig.add_artist(Line2D([252 / W], [ly], transform=fig.transFigure, marker='^', ms=8,
                      mfc='white', mec='red', mew=1.1, ls='none'))
fig.text(261 / W, ly, 'Previous Las Tres Palmas Data', ha='left', va='center', fontsize=10.5)
fig.add_artist(Line2D([537 / W], [ly], transform=fig.transFigure, marker='D', ms=6,
                      mfc='#0000ff', mec='#0000ff', ls='none'))
fig.text(545 / W, ly, 'Las Tres Palmas', ha='left', va='center', fontsize=10.5)

fig.savefig('out.png', dpi=100)
